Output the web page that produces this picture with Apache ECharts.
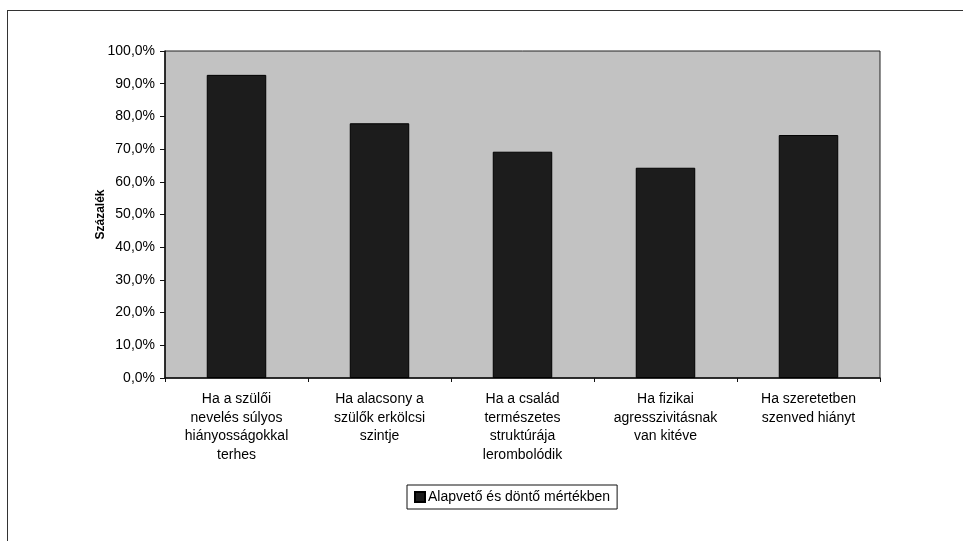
<!DOCTYPE html>
<html>
<head>
<meta charset="utf-8">
<script src="https://cdn.jsdelivr.net/npm/echarts@6/dist/echarts.min.js"></script>
<style>
html,body{margin:0;padding:0;width:963px;height:541px;overflow:hidden;background:#fff;}
#frame{position:absolute;left:7px;top:10px;width:1000px;height:600px;border:1.5px solid #333;box-sizing:border-box;}
#chart{position:absolute;left:0;top:0;width:963px;height:541px;}
</style>
</head>
<body>
<div id="frame"></div>
<div id="chart"></div>
<script>
var categories = [
  "Ha a szülői\nnevelés súlyos\nhiányosságokkal\nterhes",
  "Ha alacsony a\nszülők erkölcsi\nszintje",
  "Ha a család\ntermészetes\nstruktúrája\nlerombolódik",
  "Ha fizikai\nagresszivitásnak\nvan kitéve",
  "Ha szeretetben\nszenved hiányt"
];
var seriesName = "Alapvető és döntő mértékben";
var values = [92.7, 77.9, 69.2, 64.3, 74.3];
var yAxisName = "Százalék";

var chart = echarts.init(document.getElementById('chart'));
var font = 'Liberation Sans, Arial, sans-serif';
chart.setOption({
  animation: false,
  textStyle: {fontFamily: font},
  grid: {
    left: 165, right: 83, top: 51, bottom: 163,
    show: true, backgroundColor: '#c2c2c2', borderColor: '#222', borderWidth: 1
  },
  legend: {
    data: [seriesName],
    left: 407, top: 485,
    borderColor: '#111', borderWidth: 1, padding: [5, 7],
    itemWidth: 10, itemHeight: 10, itemGap: 4,
    icon: 'rect',
    textStyle: {fontFamily: font, fontSize: 14, color: '#000', padding: [0, 0, 0, -2]}
  },
  xAxis: {
    type: 'category',
    data: categories,
    axisLine: {lineStyle: {color: '#111', width: 1.5}},
    axisTick: {show: true, length: 4, lineStyle: {color: '#111'}},
    axisLabel: {interval: 0, fontSize: 14, lineHeight: 18.5, color: '#000', margin: 12, fontFamily: font}
  },
  yAxis: {
    type: 'value',
    min: 0, max: 100, interval: 10,
    name: yAxisName,
    nameLocation: 'middle',
    nameGap: 58,
    nameMoveOverlap: false,
    nameRotate: 90,
    nameTextStyle: {fontSize: 12, fontWeight: 'bold', color: '#000', fontFamily: font},
    axisLine: {show: true, lineStyle: {color: '#111', width: 1.5}},
    axisTick: {show: true, length: 5, lineStyle: {color: '#111'}},
    splitLine: {show: false},
    axisLabel: {
      fontSize: 14, color: '#000', margin: 10, fontFamily: font,
      formatter: function (v) { return v.toFixed(1).replace('.', ',') + '%'; }
    }
  },
  series: [{
    name: seriesName,
    type: 'bar',
    data: values,
    barWidth: '41.6%',
    itemStyle: {color: '#1c1c1c', borderColor: '#000', borderWidth: 1}
  }]
});
</script>
</body>
</html>
